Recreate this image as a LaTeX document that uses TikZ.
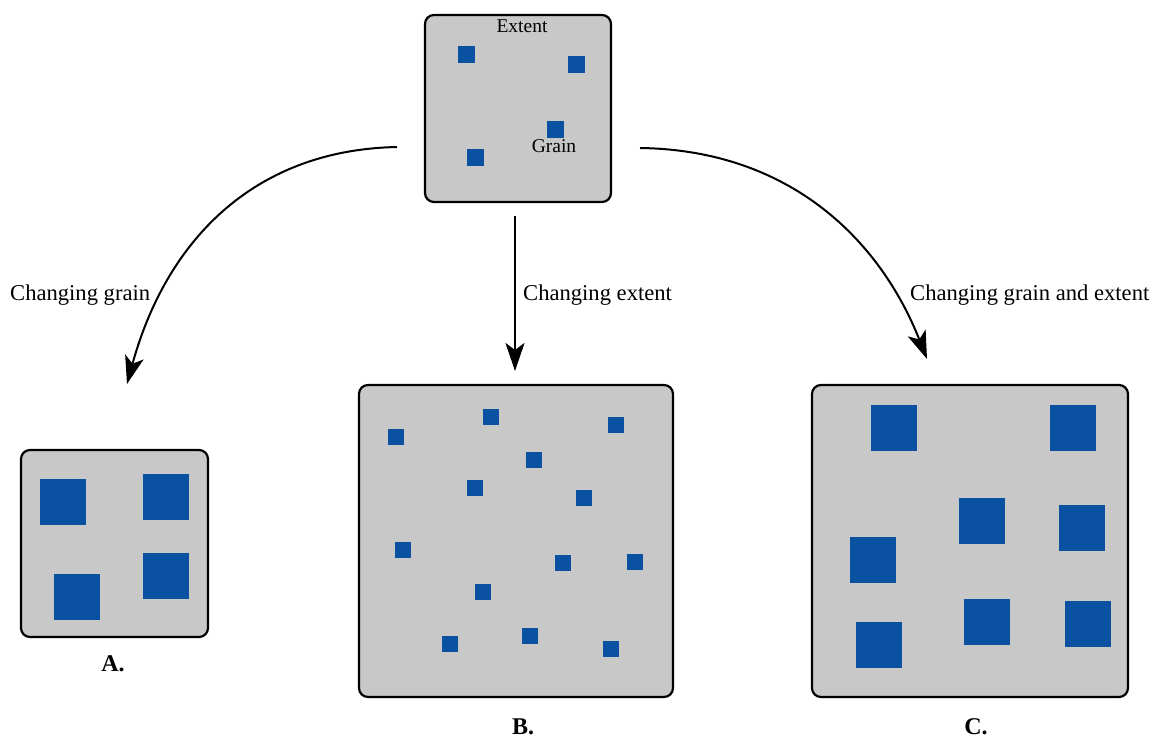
\documentclass[tikz,border=0pt]{standalone}
\usepackage{fontspec}
\setmainfont{Liberation Serif}
\usetikzlibrary{arrows.meta}
\definecolor{panelgrey}{HTML}{C8C8C8}
\definecolor{grainblue}{HTML}{0B51A1}
\begin{document}
\begin{tikzpicture}[x=1pt,y=-1pt,
  panel/.style={draw=black,line width=2.2pt,fill=panelgrey,rounded corners=9pt,inner sep=0pt},
  sg/.style={fill=grainblue,draw=none,minimum size=17pt,inner sep=0pt},
  bg/.style={fill=grainblue,draw=none,minimum size=46pt,inner sep=0pt},
  conn/.style={line width=2pt,-{Stealth[length=28pt,width=19pt,inset=7pt]}},
  lbl/.style={font=\fontsize{22.6}{27}\selectfont,inner sep=0pt,anchor=west},
  tag/.style={font=\fontsize{24}{28}\selectfont\bfseries,inner sep=0pt},
  small/.style={font=\fontsize{19.5}{23}\selectfont,inner sep=0pt}]
\useasboundingbox (0,0) rectangle (1152,740);
% top panel
\node[panel,minimum width=186pt,minimum height=187pt] (top) at (518,108.5) {};
\node[small] (ext) at (522,26) {Extent};
\node[sg] (t1) at (466,54) {};
\node[sg] (t2) at (576,64) {};
\node[sg] (t3) at (555,129) {};
\node[sg] (t4) at (475,157) {};
\node[small] (gr) at (554,146) {Grain};
% panel A
\node[panel,minimum width=187pt,minimum height=187pt] (A) at (114.5,543.5) {};
\node[bg] (a1) at (63,502) {};
\node[bg] (a2) at (166,497) {};
\node[bg] (a3) at (77,597) {};
\node[bg] (a4) at (166,576) {};
\node[tag] (Alab) at (113,664) {A.};
% panel B
\node[panel,minimum width=314pt,minimum height=312pt] (B) at (516,541) {};
\foreach \p/\x/\y in {1/396/437,2/491/417,3/616/425,4/534/460,5/475/488,6/584/498,7/403/550,8/563/563,9/635/562,10/483/592,11/450/644,12/530/636,13/611/649}
  \node[sg,minimum size=16pt] (b\p) at (\x,\y) {};
\node[tag] (Blab) at (523,727) {B.};
% panel C
\node[panel,minimum width=316pt,minimum height=312pt] (C) at (970,541) {};
\foreach \p/\x/\y in {1/894/428,2/1073/428,3/982/521,4/1082/528,5/873/560,6/987/622,7/879/645,8/1088/624}
  \node[bg] (c\p) at (\x,\y) {};
\node[tag] (Clab) at (976,727) {C.};
% connectors
\coordinate (ls) at (397,147);
\coordinate (le) at (127,384);
\coordinate (ms) at (515,216);
\coordinate (me) at (515,371);
\coordinate (rs) at (640,148);
\coordinate (re) at (927,359);
\draw[conn] (ls) .. controls (250,150) and (165,245) .. (le);
\draw[conn] (ms) -- (me);
\draw[conn] (rs) .. controls (790,150) and (880,240) .. (re);
\node[lbl] (lg) at (10,295) {Changing grain};
\node[lbl] (le2) at (523,295) {Changing extent};
\node[lbl] (lge) at (910,295) {Changing grain and extent};
\end{tikzpicture}
\end{document}
